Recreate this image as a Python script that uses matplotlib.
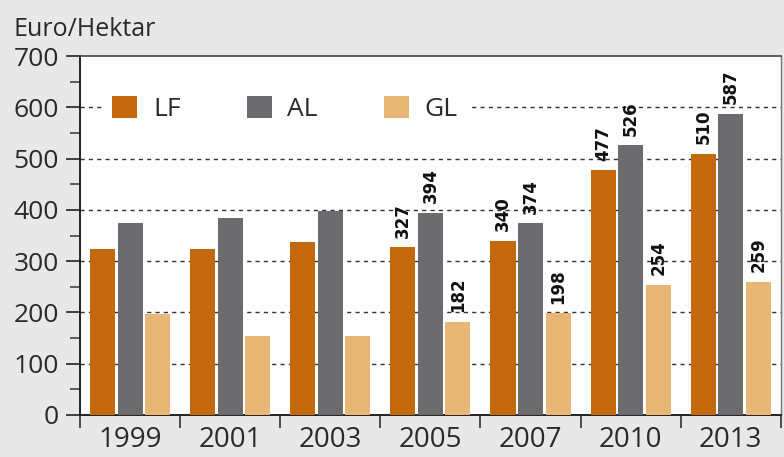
import matplotlib
matplotlib.use("Agg")
import matplotlib.pyplot as plt
from matplotlib.patches import Patch
import numpy as np

years = ["1999", "2001", "2003", "2005", "2007", "2010", "2013"]
series_names = ["LF", "AL", "GL"]
lf = [323, 323, 337, 327, 340, 477, 510]
al = [374, 384, 397, 394, 374, 526, 587]
gl = [197, 154, 154, 182, 198, 254, 259]
labelled = [False, False, False, True, True, True, True]
yticks = [0, 100, 200, 300, 400, 500, 600, 700]
colors = ["#c4680c", "#6c6c6e", "#e8b675"]

plt.rcParams['font.family'] = ['Open Sans', 'DejaVu Sans']

fig = plt.figure(figsize=(7.84, 4.57), dpi=100, facecolor="#e8e8e8")
ax = fig.add_axes([0.102, 0.092, 0.894, 0.785])
ax.set_facecolor("#fdfdfd")

x = np.arange(len(years))
offsets = [-0.275, 0.0, 0.275]
width = 0.25
for vals, off, col in zip([lf, al, gl], offsets, colors):
    bars = ax.bar(x + off, vals, width, color=col, zorder=3)
    for xi, v, show in zip(x, vals, labelled):
        if show:
            ax.annotate(str(v), (xi + off, v), xytext=(0, 7), textcoords="offset points",
                        rotation=90, ha="center", va="bottom", fontsize=12,
                        fontweight="bold", family="DejaVu Sans", color="#111111", zorder=4)

ax.set_xlim(-0.5, len(years) - 0.5)
ax.set_ylim(0, 700)
ax.set_yticks(yticks)
ax.set_yticklabels([str(t) for t in yticks], fontsize=19, color="#2a2a2a")
ax.set_yticks(np.arange(50, 700, 100), minor=True)
ax.tick_params(axis="y", which="major", direction="out", length=10, width=1.2, pad=5, color="#222222")
ax.tick_params(axis="y", which="minor", direction="out", length=7, width=1.2, color="#444444")

ax.set_xticks(x)
ax.set_xticklabels(years, fontsize=20, color="#2a2a2a")
ax.set_xticks(np.arange(-0.5, len(years), 1.0), minor=True)
ax.tick_params(axis="x", which="major", length=0, pad=8)
ax.tick_params(axis="x", which="minor", direction="out", length=9, width=1.2, color="#333333")

for yv in yticks[1:-1]:
    ax.axhline(yv, color="#333333", lw=1.0, ls=(0, (3, 3)), zorder=1)

for s in ["left", "bottom"]:
    ax.spines[s].set_color("#222222")
    ax.spines[s].set_linewidth(1.4)
ax.spines["top"].set_color("#444444")
ax.spines["top"].set_linewidth(1.2)
ax.spines["right"].set_color("#777777")
ax.spines["right"].set_linewidth(1.0)

handles = [Patch(facecolor=c, label=n) for c, n in zip(colors, series_names)]
leg = ax.legend(handles=handles, loc="center left", bbox_to_anchor=(0.012, 0.853), ncol=3,
                fontsize=19, frameon=True, handlelength=0.95, handleheight=0.95,
                handletextpad=0.6, columnspacing=2.5, borderpad=0.4, fancybox=False)
for t in leg.get_texts():
    t.set_color("#2a2a2a")
leg.get_frame().set_facecolor("#fdfdfd")
leg.get_frame().set_edgecolor("none")
leg.get_frame().set_alpha(1.0)
leg.set_zorder(5)

fig.text(0.017, 0.936, "Euro/Hektar", fontsize=18, color="#2a2a2a", ha="left", va="center")

fig.savefig("out.png", dpi=100, facecolor=fig.get_facecolor())
